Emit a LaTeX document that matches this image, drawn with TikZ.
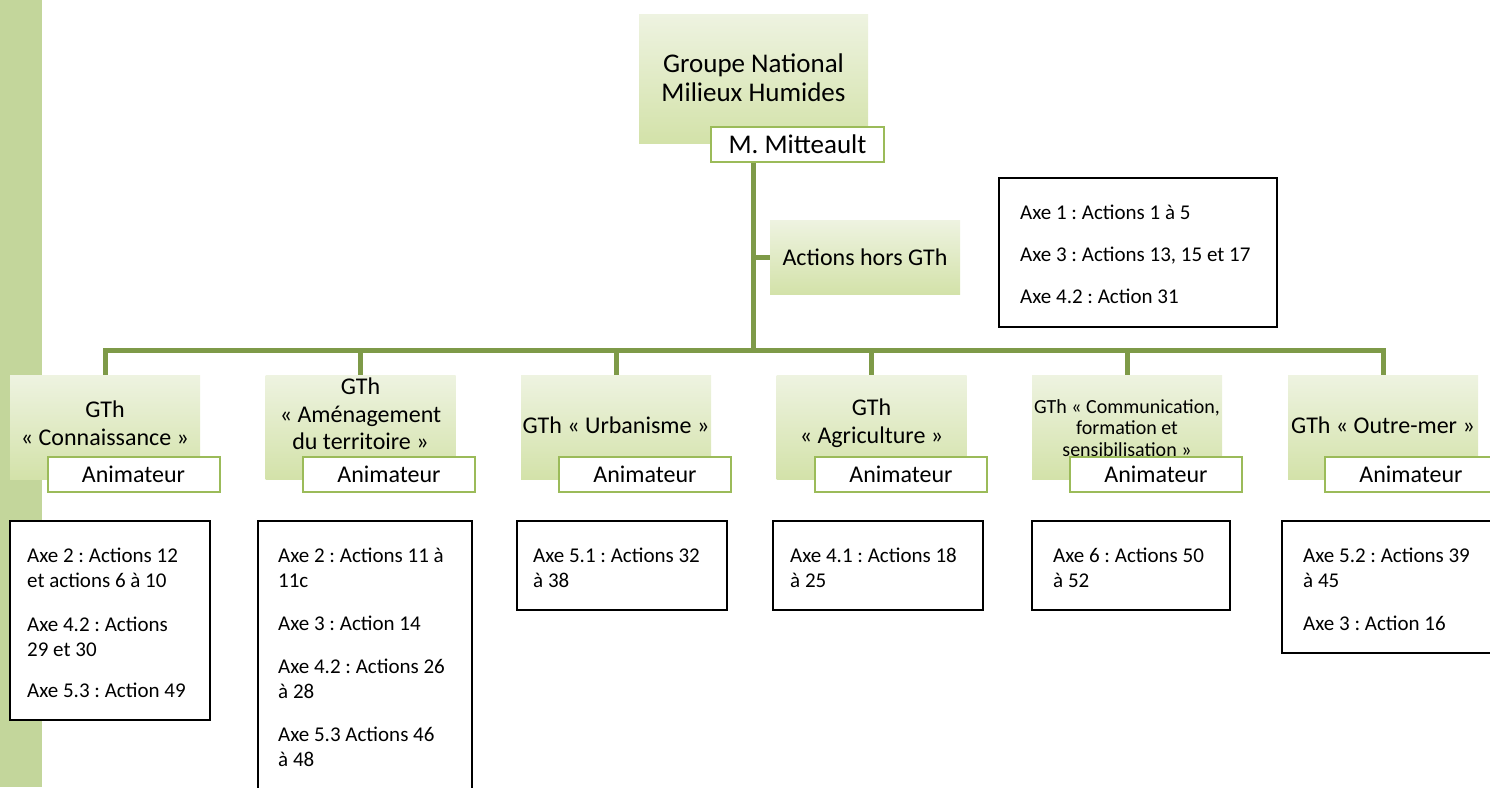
\documentclass[tikz,border=0pt]{standalone}
\usepackage{fontspec}
\setmainfont{Carlito}
\frenchspacing
\definecolor{barg}{HTML}{C3D69B}
\definecolor{lineg}{HTML}{7E9A48}
\definecolor{gtop}{HTML}{EEF3E1}
\definecolor{gbot}{HTML}{D3E2A9}
\definecolor{animb}{HTML}{9BBB59}
\newcommand\fl{\rule{0pt}{15pt}}
\begin{document}
\begin{tikzpicture}[x=1pt,y=-1pt,
  conn/.style={draw=lineg, line width=5pt},
  gbox/.style={shading=axis, top color=gtop, bottom color=gbot, inner sep=0, draw=none},
  abox/.style={draw=animb, line width=2pt, fill=white, inner sep=0, minimum width=172, minimum height=35, font=\fontsize{24}{28}\selectfont},
  axebox/.style={draw=black, line width=1.5pt, fill=white, inner sep=0},
  gtext/.style={align=center, font=\fontsize{24}{27.5}\selectfont, inner sep=0},
  atext/.style={align=left, anchor=north west, font=\fontsize{21}{25}\selectfont, inner sep=0}]
\clip (0,0) rectangle (1490,787);
\fill[barg] (0,0) rectangle (42,787);

% shaded boxes
\node[gbox, minimum width=229, minimum height=129] (top) at (753.5,78.5) {};
\node[gbox, minimum width=190, minimum height=74] (ahg) at (865,257) {};
\foreach \n/\x in {1/105,2/360.5,3/616,4/871.5,5/1127,6/1383}
  \node[gbox, minimum width=190, minimum height=104] (g\n) at (\x,427) {};

% connectors
\coordinate (busy) at (0,350);
\draw[conn] (top.south) -- (top.south |- busy);
\draw[conn] (top.south |- ahg.west) -- (ahg.west);
\draw[conn] (g1.north) -- (g1.north |- busy) -- (g6.north |- busy) -- (g6.north);
\foreach \n in {2,3,4,5}
  \draw[conn] (g\n.north) -- (g\n.north |- busy);

% texts in green boxes
\node[gtext, font=\fontsize{27}{29}\selectfont] (toptxt) at (753.5,78) {Groupe National\\Milieux Humides};
\node[abox, font=\fontsize{27}{30}\selectfont, minimum width=173] (mm) at (797.5,144.5) {M. Mitteault};
\node[gtext] (ahgtxt) at (865,257) {Actions hors GTh};

\node[gtext] (t1) at (105,423) {GTh\\« Connaissance »};
\node[gtext] (t2) at (360.5,414) {GTh\\« Aménagement\\du territoire »};
\node[gtext] (t3) at (616,425) {GTh « Urbanisme »};
\node[gtext] (t4) at (871.5,423) {GTh\\« Agriculture »};
\node[gtext, font=\fontsize{20}{21.5}\selectfont] (t5) at (1127,428) {GTh « Communication,\\formation et\\sensibilisation »};
\node[gtext] (t6) at (1383,425) {GTh « Outre-mer »};

\foreach \n/\x in {1/133.5,2/389,3/645,4/901,5/1156,6/1411}
  \node[abox] (an\n) at (\x,474.5) {Animateur};

% action boxes
\node[axebox, minimum width=278, minimum height=149] (tr) at (1138,252.5) {};
\node[axebox, minimum width=200, minimum height=199] (bA) at (110,620.5) {};
\node[axebox, minimum width=214, minimum height=279] (bB) at (365,660.5) {};
\node[axebox, minimum width=210, minimum height=89] (bC) at (622,565.5) {};
\node[axebox, minimum width=210, minimum height=89] (bD) at (878,565.5) {};
\node[axebox, minimum width=198, minimum height=89] (bE) at (1131,565.5) {};
\node[axebox, minimum width=218, minimum height=132] (bF) at (1391,587) {};

\node[atext] (trt) at (1020,204) {\fl Axe 1 : Actions 1 à 5\\[17pt]Axe 3 : Actions 13, 15 et 17\\[17pt]Axe 4.2 : Action 31};
\node[atext] (at) at (27,547) {\fl Axe 2 : Actions 12\\et actions 6 à 10\\[19pt]Axe 4.2 : Actions\\29 et 30\\[16pt]Axe 5.3 : Action 49};
\node[atext] (bt) at (278,547) {\fl Axe 2 : Actions 11 à\\11c\\[18pt]Axe 3 : Action 14\\[18pt]Axe 4.2 : Actions 26\\à 28\\[18pt]Axe 5.3 Actions 46\\à 48};
\node[atext] (ct) at (533,547) {\fl Axe 5.1 : Actions 32\\à 38};
\node[atext] (dt) at (790,547) {\fl Axe 4.1 : Actions 18\\à 25};
\node[atext] (et) at (1053,547) {\fl Axe 6 : Actions 50\\à 52};
\node[atext] (ft) at (1303,547) {\fl Axe 5.2 : Actions 39\\à 45\\[18pt]Axe 3 : Action 16};
\end{tikzpicture}
\end{document}
